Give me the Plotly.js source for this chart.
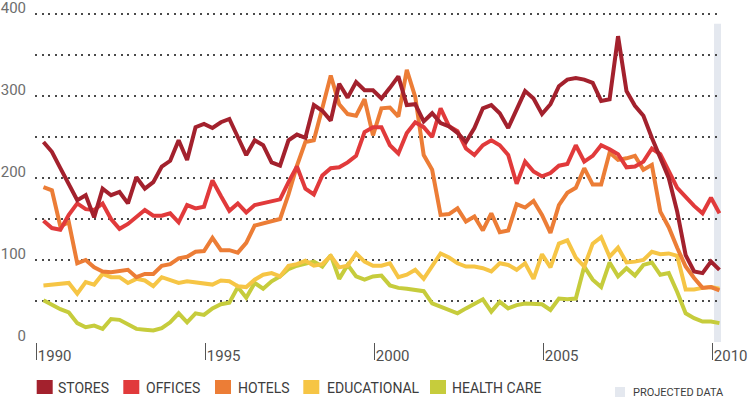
<!DOCTYPE html>
<html>
<head>
<meta charset="utf-8">
<script src="https://cdn.plot.ly/plotly-3.0.1.min.js"></script>
<style>
html,body{margin:0;padding:0;background:#fff;}
#chart{width:754px;height:413px;}
</style>
</head>
<body>
<div id="chart"></div>
<script>
// Quarterly observations, 1990 Q1 .. 2010 Q1
const firstQuarter = 1990.2;
const quarterCount = 81;

const stores = [244,232,212,192,173,179,152,187,179,183, 169,201,187,195,214,221,246,222,262,266,
  261,268,272,250,228,246,240,219,215,246, 253,249,289,282,270,315,298,317,307,307,
  297,310,324,289,290,269,279,267,263,255, 244,261,285,289,279,261,285,306,297,278,
  290,312,320,322,320,316,294,296,373,306, 288,276,249,224,200,159,106,86,84,98, 88];

const offices = [148,139,137,155,169,162,161,169,150,138, 144,152,161,154,154,157,146,167,163,165,
  197,178,160,169,158,167,169,171,174,195, 214,187,180,203,212,213,219,227,256,262,
  262,240,230,255,268,262,250,285,263,257, 236,228,240,246,240,228,193,220,208,202,
  206,215,217,240,220,227,240,235,229,213, 214,220,236,229,208,188,177,166,157,176, 157];

const hotels = [189,185,141,146,96,100,91,86,85,87, 88,79,83,83,93,95,102,104,110,111,
  127,112,112,109,121,142,145,148,150,180, 215,244,246,285,325,290,278,276,296,252,
  285,286,275,332,299,228,210,155,156,163, 147,153,136,157,134,136,168,164,172,155,
  133,167,182,188,212,192,192,231,222,224, 227,210,216,159,140,115,92,78,66,67, 63];

const educational = [69,70,71,72,59,73,70,83,79,79, 72,77,75,68,79,75,72,74,73,72,
  70,75,74,68,67,76,82,84,80,93, 95,99,93,95,105,91,93,108,98,93,
  93,96,79,82,88,77,92,108,103,96, 92,92,90,86,96,94,88,96,77,107,
  91,120,124,103,92,120,128,104,115,97, 98,100,110,107,108,105,64,64,66,67, 65];

const healthCare = [51,45,40,36,23,18,20,16,28,27, 22,16,15,14,17,24,35,24,35,33,
  41,46,48,67,54,72,65,74,80,89, 93,95,98,92,106,77,94,80,76,80,
  81,69,66,65,63,62,47,43,39,35, 41,46,52,37,49,41,45,47,47,46,
  39,53,52,53,92,76,67,97,80,90, 81,94,97,82,84,61,35,29,25,25, 23];

const seriesNames = ["STORES","OFFICES","HOTELS","EDUCATIONAL","HEALTH CARE"];
const seriesColors = ["#a3212d","#e13a3b","#ec7d36","#f6c545","#c6cc3c"];
const yTickVals = [0,50,100,150,200,250,300,350,400];
const yTickText = ["0","","100","","200","","300","","400"];
const xTickVals = [1990,1995,2000,2005,2010];
const xTickText = ["1990","1995","2000","2005","2010"];
const projectedStart = 2010.04;
const projectedLabel = "PROJECTED DATA";

const quarters = [];
for (let i = 0; i < quarterCount; i++) quarters.push(firstQuarter + 0.25 * i);

const seriesValues = [stores, offices, hotels, educational, healthCare];

const traces = [];
// draw health care first so stores ends on top
for (let k = seriesValues.length - 1; k >= 0; k--) {
  traces.push({
    type: "scatter", mode: "lines",
    x: quarters, y: seriesValues[k],
    name: seriesNames[k],
    line: {color: seriesColors[k], width: 4, shape: "linear"},
    hoverinfo: "skip",
    showlegend: false
  });
}

const W = 754, H = 413;
const yMax = 411;
const M = {l: 35, r: 33, t: Math.round(342 - yMax * 0.82), b: 71};
const pw = W - M.l - M.r, ph = H - M.t - M.b;
const px2x = p => (p - M.l) / pw;
const py2y = p => (H - M.b - p) / ph;

const FONT = "Roboto, 'Liberation Sans', sans-serif";

const shapes = [
  {type: "rect", xref: "x", yref: "y", x0: projectedStart, x1: 2010.26, y0: -6, y1: 388,
   fillcolor: "#e4e8ef", line: {width: 0}, layer: "below"}
];
const annotations = [];

// legend squares + labels
const legendSquares = [36.7, 123.3, 215, 303.3, 430];
const legendText = [57.3, 145, 237.3, 326, 450.7];
for (let k = 0; k < seriesNames.length; k++) {
  shapes.push({type: "rect", xref: "paper", yref: "paper",
    x0: px2x(legendSquares[k]), x1: px2x(legendSquares[k] + 16),
    y0: py2y(394), y1: py2y(380),
    fillcolor: seriesColors[k], line: {width: 0}});
  annotations.push({xref: "paper", yref: "paper", x: px2x(legendText[k] - 1), y: py2y(387.5),
    xanchor: "left", yanchor: "middle", showarrow: false, text: seriesNames[k],
    font: {family: FONT, size: 14, color: "#3d3d3d"}});
}
shapes.push({type: "rect", xref: "paper", yref: "paper",
  x0: px2x(615), x1: px2x(625), y0: py2y(397), y1: py2y(387),
  fillcolor: "#e4e8ef", line: {width: 0}});
annotations.push({xref: "paper", yref: "paper", x: px2x(631), y: py2y(392.5),
  xanchor: "left", yanchor: "middle", showarrow: false, text: projectedLabel,
  font: {family: FONT, size: 11, color: "#3d3d3d"}});

const layout = {
  width: W, height: H,
  margin: M,
  paper_bgcolor: "#ffffff", plot_bgcolor: "#ffffff",
  showlegend: false,
  xaxis: {
    range: [1989.95, 2010.246],
    tickvals: xTickVals, ticktext: xTickText,
    ticks: "outside", ticklen: 17, tickwidth: 1, tickcolor: "#555",
    showgrid: false, zeroline: false, showline: false,
    ticklabelshift: 18, ticklabelstandoff: -17,
    ticklabeloverflow: "allow",
    tickfont: {family: FONT, size: 15, color: "#505050"},
    fixedrange: true
  },
  yaxis: {
    range: [0, yMax],
    tickvals: yTickVals, ticktext: yTickText,
    showgrid: true, gridcolor: "#4a4a4a", gridwidth: 2, griddash: "2px,4.6px",
    zeroline: false, showline: false, ticks: "",
    ticklabelshift: -6, ticklabelstandoff: 8,
    ticklabeloverflow: "allow",
    tickfont: {family: FONT, size: 15, color: "#6e6e6e"},
    fixedrange: true
  },
  shapes: shapes,
  annotations: annotations
};

Plotly.newPlot("chart", traces, layout, {displayModeBar: false, staticPlot: true});
</script>
</body>
</html>
